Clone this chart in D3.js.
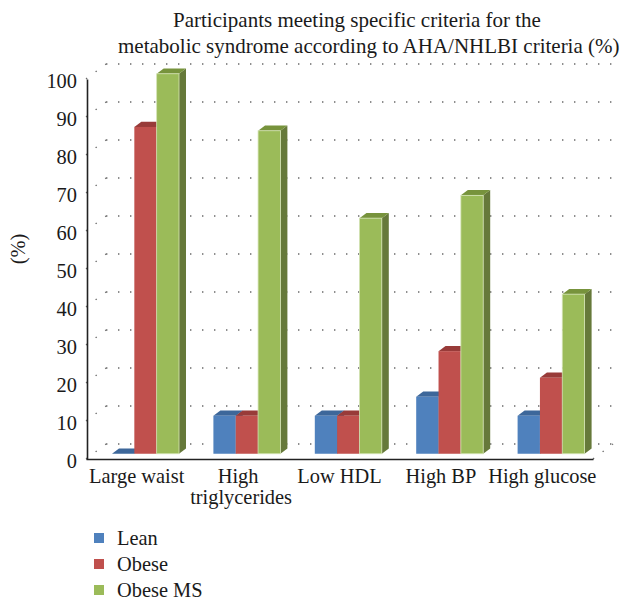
<!DOCTYPE html>
<html>
<head>
<meta charset="utf-8">
<script src="https://cdn.jsdelivr.net/npm/d3@7/dist/d3.min.js"></script>
<style>
  html, body { margin: 0; padding: 0; background: #fff; }
  svg text { font-family: "Liberation Serif", "Times New Roman", serif; fill: #1a1a1a; }
</style>
</head>
<body>
<svg id="chart" width="627" height="603"></svg>
<script>
// Criteria categories and percentages for each group
const categories = ["Large waist", "High triglycerides", "Low HDL", "High BP", "High glucose"];
const categoryLines = [["Large waist"], ["High", "triglycerides"], ["Low HDL"], ["High BP"], ["High glucose"]];
const seriesNames = ["Lean", "Obese", "Obese MS"];
const leanValues = [0, 10, 10, 15, 10];
const obeseValues = [86, 10, 10, 27, 20];
const obeseMSValues = [100, 85, 62, 68, 42];
const yTicks = [0, 10, 20, 30, 40, 50, 60, 70, 80, 90, 100];
const titleLines = ["Participants meeting specific criteria for the",
                    "metabolic syndrome according to AHA/NHLBI criteria (%)"];

const seriesValues = [leanValues, obeseValues, obeseMSValues];
const frontColors = ["#4f81bd", "#c0504d", "#9bbb59"];
const topColors = ["#3d679a", "#983b39", "#77933c"];
const sideColors = ["#36598a", "#853230", "#66793a"];
const labelSize = 20.4;

const svg = d3.select("#chart");

// Front plane of the 3D box, plus the depth vector toward the back wall
const x = d3.scaleBand().domain(categories).range([86, 593]);
const y = d3.scaleLinear().domain([0, 100]).range([459, 79]);
const depth = { dx: 20, dy: -15 };
const barFront = 0.35, barBack = 0.7;        // bar position inside the depth
const sub = d3.scaleBand().domain(seriesNames).range([19, 86]);

// Dotted back-wall gridlines and left-wall guide lines
const grid = svg.append("g").attr("stroke", "#6a6a6a").attr("stroke-width", 1.4)
  .attr("stroke-dasharray", "1.4,10.6").attr("fill", "none");
yTicks.forEach(t => {
  const yb = y(t) + depth.dy;
  grid.append("line").attr("x1", x.range()[0] + depth.dx).attr("x2", x.range()[1] + depth.dx + 1)
    .attr("y1", yb).attr("y2", yb);
  grid.append("line").attr("x1", x.range()[0]).attr("y1", y(t))
    .attr("x2", x.range()[0] + depth.dx).attr("y2", yb);
});
// right edge of the floor
grid.append("line").attr("x1", x.range()[1]).attr("y1", y(0))
  .attr("x2", x.range()[1] + depth.dx).attr("y2", y(0) + depth.dy);

// 3D bars: side, top and front faces
const bars = svg.append("g");
const fdx = depth.dx * barFront, fdy = depth.dy * barFront;
const bdx = depth.dx * (barBack - barFront), bdy = depth.dy * (barBack - barFront);
categories.forEach((c, ci) => {
  seriesNames.forEach((s, si) => {
    const v = seriesValues[si][ci];
    const x0 = x(c) + sub(s) + fdx, x1 = x0 + sub.bandwidth();
    const yTop = y(v) + fdy, yBase = y(0) + fdy;
    const g = bars.append("g");
    g.append("path").attr("fill", sideColors[si])
      .attr("d", `M${x1},${yTop}L${x1 + bdx},${yTop + bdy}L${x1 + bdx},${yBase + bdy}L${x1},${yBase}Z`);
    g.append("path").attr("fill", topColors[si])
      .attr("d", `M${x0},${yTop}L${x0 + bdx},${yTop + bdy}L${x1 + bdx},${yTop + bdy}L${x1},${yTop}Z`);
    if (v > 0) {
      g.append("rect").attr("x", x0).attr("y", yTop).attr("width", sub.bandwidth())
        .attr("height", yBase - yTop).attr("fill", frontColors[si])
        .attr("stroke", si === 2 ? "#d4e3b4" : "none").attr("stroke-width", si === 2 ? 0.8 : 0);
    }
  });
});

// Axes
const yAxis = d3.axisLeft(y).tickValues(yTicks).tickSize(0).tickPadding(10);
const ya = svg.append("g").attr("transform", "translate(87,0)").call(yAxis);
ya.select(".domain").attr("stroke", "#222").attr("stroke-width", 1.6);
ya.selectAll("text").attr("font-size", labelSize).attr("font-family", "Liberation Serif")
  .attr("fill", "#1a1a1a").attr("dy", "0.42em");

const xAxis = d3.axisBottom(x).tickSize(0).tickFormat("");
const xa = svg.append("g").attr("transform", `translate(0,${y(0)})`).call(xAxis);
xa.select(".domain").attr("stroke", "#222").attr("stroke-width", 1.6);

// Category labels (wrapped)
categories.forEach((c, ci) => {
  const t = svg.append("text").attr("text-anchor", "middle").attr("font-size", labelSize)
    .attr("x", x(c) + x.bandwidth() / 2).attr("y", 483);
  categoryLines[ci].forEach((line, li) => {
    t.append("tspan").attr("x", x(c) + x.bandwidth() / 2 + (li === 1 ? 3 : 0))
      .attr("dy", li === 0 ? 0 : 21).text(line);
  });
});

// Title
svg.append("text").attr("x", 173).attr("y", 27).attr("font-size", 21).text(titleLines[0]);
svg.append("text").attr("x", 118).attr("y", 53).attr("font-size", 21).text(titleLines[1]);

// Y axis title
svg.append("text").attr("transform", "translate(25,249) rotate(-90)")
  .attr("text-anchor", "middle").attr("font-size", labelSize).text("(%)");

// Legend
const legend = svg.append("g");
seriesNames.forEach((s, si) => {
  const ly = 533 + si * 26;
  legend.append("rect").attr("x", 94).attr("y", ly).attr("width", 10).attr("height", 10)
    .attr("fill", frontColors[si]);
  legend.append("text").attr("x", 117).attr("y", ly + 12).attr("font-size", labelSize).text(s);
});
</script>
</body>
</html>
